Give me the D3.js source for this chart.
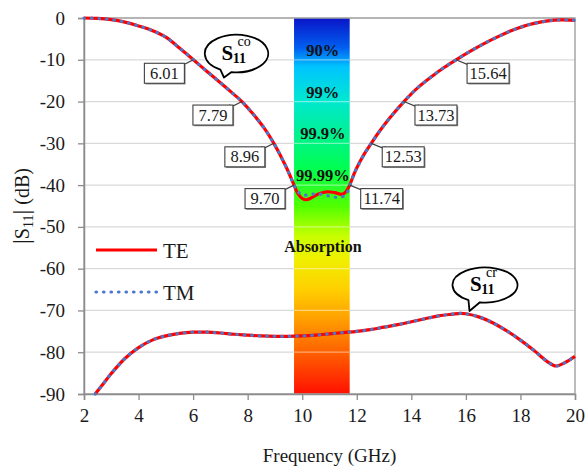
<!DOCTYPE html>
<html><head><meta charset="utf-8">
<script src="https://cdn.jsdelivr.net/npm/d3@7"></script>
<style>
html,body{margin:0;padding:0;background:#fff;}
svg{display:block;}
svg text{font-family:"Liberation Serif","Times New Roman",Tinos,serif;}
</style></head>
<body><svg id="chart" width="587" height="470"></svg>
<script>
// ---------- data ----------
const xTicks = [2,4,6,8,10,12,14,16,18,20];
const yTicks = [0,-10,-20,-30,-40,-50,-60,-70,-80,-90];

const freqCo = [2,2.5,3,3.5,4,4.5,5,5.5,6.01,6.5,7,7.4,7.79,8.2,8.6,8.96,9.2,9.45,9.70,9.85,10.0,10.15,10.35,10.6,10.9,11.2,11.45,11.6,11.74,11.9,12.1,12.3,12.53,12.8,13.2,13.73,14.2,14.75,15.2,15.64,16.2,16.7,17.2,17.68,18.1,18.5,19.0,19.5,20];
const teCo   = [0,-0.1,-0.4,-1.0,-1.9,-3.0,-4.6,-7.2,-10,-12.75,-15.5,-17.75,-20,-23.0,-26.3,-30,-32.9,-36.2,-40,-42.1,-43.2,-43.5,-43.0,-42.1,-41.6,-41.8,-42.2,-41.6,-40,-37.3,-34.6,-32.3,-30,-27.4,-24.0,-20,-16.9,-14.0,-11.85,-10,-7.8,-6.0,-4.4,-3.0,-2.0,-1.3,-0.7,-0.45,-0.55];
const tmCo   = [0,-0.1,-0.4,-1.0,-1.9,-3.0,-4.6,-7.2,-10,-12.75,-15.5,-17.75,-20,-23.0,-26.3,-30,-32.9,-36.2,-40,-41.6,-42.3,-42.4,-42.2,-42.1,-42.5,-42.9,-42.8,-42.3,-40.3,-37.3,-34.6,-32.3,-30,-27.4,-24.0,-20,-16.9,-14.0,-11.85,-10,-7.8,-6.0,-4.4,-3.0,-2.0,-1.3,-0.7,-0.45,-0.55];

const freqCr = [2.41,2.7,3.0,3.5,4.0,4.5,5.0,5.5,6.0,6.5,7.0,7.5,8.0,8.5,9.0,9.5,10.0,10.5,11.0,11.5,12.0,12.5,13.0,13.5,14.0,14.5,15.0,15.5,15.8,16.0,16.5,17.0,17.5,18.0,18.5,19.0,19.3,19.6,20.0];
const teCr   = [-90,-87.6,-85.1,-81.5,-78.9,-77.1,-76.1,-75.5,-75.2,-75.2,-75.4,-75.7,-75.9,-76.1,-76.2,-76.2,-76.1,-75.9,-75.6,-75.3,-75.0,-74.6,-74.0,-73.4,-72.7,-72.0,-71.3,-70.9,-70.7,-70.8,-71.6,-73.0,-74.9,-77.1,-79.6,-82.3,-83.3,-82.6,-81.0];
const tmCr   = teCr.slice();

const markerFreqs  = [6.01,7.79,8.96,9.70,11.74,12.53,13.73,15.64];
const markerLevels = [-10,-20,-30,-40,-40,-30,-20,-10];

const bandStart = 9.70, bandEnd = 11.74;
const absorbLevels = [-10,-20,-30,-40];
const absorbLabels = ["90%","99%","99.9%","99.99%"];

const seriesNames = ["TE","TM"];

// ---------- layout ----------
const svg = d3.select("#chart");
const x = d3.scaleLinear().domain([2,20]).range([84,575]);
const y = d3.scaleLinear().domain([-90,0]).range([394,18]);

// gridlines under
svg.append("g").selectAll("line").data(yTicks).join("line")
  .attr("x1", x(2)).attr("x2", x(20))
  .attr("y1", d=>y(d)).attr("y2", d=>y(d))
  .attr("stroke","#d9d9d9").attr("stroke-width",1.3);

// absorption band gradient
const defs = svg.append("defs");
const grad = defs.append("linearGradient").attr("id","bandGrad")
  .attr("x1",0).attr("y1",0).attr("x2",0).attr("y2",1);
[[0,"#0a14c8"],[0.08,"#0060f0"],[0.13,"#00c4ff"],[0.22,"#00e8d0"],[0.30,"#00f098"],
 [0.40,"#00ff50"],[0.50,"#50ff00"],[0.58,"#c8ff00"],[0.64,"#f0f000"],[0.72,"#ffd000"],
 [0.80,"#ffa000"],[0.89,"#ff6000"],[1,"#ff1000"]].forEach(s=>{
  grad.append("stop").attr("offset",s[0]).attr("stop-color",s[1]);
});
svg.append("rect").attr("x",x(bandStart)).attr("y",y(0))
  .attr("width",x(bandEnd)-x(bandStart)).attr("height",y(-90)-y(0))
  .attr("fill","url(#bandGrad)");
svg.append("g").selectAll("line").data(yTicks.filter(d=>d>-90 && d<0)).join("line")
  .attr("x1", x(bandStart)).attr("x2", x(bandEnd))
  .attr("y1", d=>y(d)).attr("y2", d=>y(d))
  .attr("stroke","rgba(255,255,255,0.45)").attr("stroke-width",1.3);

// frame
svg.append("rect").attr("x",x(2)).attr("y",y(0)).attr("width",x(20)-x(2)).attr("height",y(-90)-y(0))
  .attr("fill","none").attr("stroke","#a6a6a6").attr("stroke-width",1.5);

// axes
const ax = svg.append("g").attr("transform",`translate(0,${y(-90)})`)
  .call(d3.axisBottom(x).tickValues(xTicks).tickSize(6).tickPadding(9).tickFormat(d3.format("d")));
const ay = svg.append("g").attr("transform",`translate(${x(2)},0)`)
  .call(d3.axisLeft(y).tickValues(yTicks).tickSize(6).tickPadding(13).tickFormat(d=>d===0?"0":"-"+Math.abs(d)));
[ax,ay].forEach(g=>{
  g.attr("font-family",null);
  g.select(".domain").attr("stroke","#8c8c8c").attr("stroke-width",1.5);
  g.selectAll(".tick line").attr("stroke","#8c8c8c").attr("stroke-width",1.3);
  g.selectAll(".tick text").attr("font-size",19).attr("fill","#1a1a1a");
});

// axis titles
svg.append("text").attr("x",(x(2)+x(20))/2).attr("y",462).attr("text-anchor","middle")
  .attr("font-size",19).attr("fill","#1a1a1a").text("Frequency (GHz)");
const yt = svg.append("text").attr("transform",`translate(29,${(y(0)+y(-90))/2}) rotate(-90)`)
  .attr("text-anchor","middle").attr("font-size",20).attr("fill","#1a1a1a");
yt.append("tspan").attr("font-size",24).text("|");
yt.append("tspan").text("S");
yt.append("tspan").attr("font-size",14).attr("dy",4).text("11");
yt.append("tspan").attr("font-size",24).attr("dy",-4).text("|");
yt.append("tspan").text(" (dB)");

// curves
const line = d3.line().curve(d3.curveCatmullRom.alpha(0.5)).x(d=>x(d[0])).y(d=>y(d[1]));
const zip = (f,v)=>f.map((d,i)=>[d,v[i]]);
const curves = [
  {name:"TE", data:zip(freqCr,teCr)}, {name:"TM", data:zip(freqCr,tmCr)},
  {name:"TE", data:zip(freqCo,teCo)}, {name:"TM", data:zip(freqCo,tmCo)}
];
const styleOf = n => n==="TE" ? {stroke:"#ff0000", dash:null, cap:"butt"} : {stroke:"#4a78cc", dash:"0.5 7", cap:"round"};
curves.forEach(c=>{
  const s = styleOf(c.name);
  svg.append("path").attr("d",line(c.data)).attr("fill","none")
    .attr("stroke",s.stroke).attr("stroke-width",3.2)
    .attr("stroke-dasharray",s.dash).attr("stroke-linecap",s.cap);
});

// band texts
const bandMid = (x(bandStart)+x(bandEnd))/2 + 1;
svg.append("g").selectAll("text").data(absorbLevels).join("text")
  .attr("x",bandMid).attr("y",d=>y(d)-4).attr("text-anchor","middle")
  .attr("font-size",16.5).attr("font-weight","bold").attr("fill","#111")
  .text((d,i)=>absorbLabels[i]);
svg.append("text").attr("x",bandMid).attr("y",252).attr("text-anchor","middle")
  .attr("font-size",16).attr("font-weight","bold").attr("fill","#111")
  .text("Absorption");

// marker labels
markerFreqs.forEach((f,i)=>{
  const px = x(f), py = y(markerLevels[i]);
  const left = i < 4;
  const txt = f.toFixed(2);
  const w = txt.length>4 ? 42 : 40, h = 20;
  const bx = left ? px - 9 - w : px + 11;
  const by = py + 3.5;
  const cx = left ? bx + w : bx;
  const g = svg.append("g");
  g.append("path").attr("d",`M${px},${py}L${cx},${by+1}L${cx+(left?-4:4)},${by}`)
    .attr("fill","none").attr("stroke","#404040").attr("stroke-width",1.2);
  g.append("rect").attr("x",bx+1.2).attr("y",by+1.2).attr("width",w).attr("height",h).attr("fill","#8a8a8a");
  g.append("rect").attr("x",bx).attr("y",by).attr("width",w).attr("height",h)
    .attr("fill","#fff").attr("stroke","#404040").attr("stroke-width",1.1);
  g.append("text").attr("x",bx+w/2).attr("y",by+15.5).attr("text-anchor","middle")
    .attr("font-size",16.5).attr("fill","#1a1a1a").text(txt);
});

// speech bubbles
function bubble(cx, cy, rx, ry, tx, ty, sup){
  const g = svg.append("g");
  const a1 = Math.PI*0.67, a2 = Math.PI*0.55;
  const p1 = [cx+rx*Math.cos(a1), cy+ry*Math.sin(a1)];
  const p2 = [cx+rx*Math.cos(a2), cy+ry*Math.sin(a2)];
  g.append("path").attr("d",
     `M${p2[0]},${p2[1]} A${rx},${ry} 0 1 0 ${p1[0]},${p1[1]} L${tx},${ty} Z`)
    .attr("fill","#fff").attr("stroke","#000").attr("stroke-width",1.8).attr("stroke-linejoin","round");
  const t = g.append("text").attr("x",cx-15).attr("y",cy+6).attr("fill","#000");
  t.append("tspan").attr("font-size",21).attr("font-weight","bold").text("S");
  t.append("tspan").attr("font-size",14).attr("font-weight","bold").attr("dy",3).attr("dx",-0.5).text("11");
  g.append("text").attr("x",cx+1).attr("y",cy-8).attr("font-size",14).attr("fill","#000").text(sup);
}
bubble(236.5, 53.5, 31.7, 18.8, 224, 77.5, "co");
bubble(485, 285, 32.5, 17.5, 469.5, 311, "cr");

// legend
const legY = [250, 292];
seriesNames.forEach((n,i)=>{
  const s = styleOf(n);
  svg.append("line").attr("x1",96).attr("x2",157).attr("y1",legY[i]).attr("y2",legY[i])
    .attr("stroke",s.stroke).attr("stroke-width",3.2).attr("stroke-dasharray",s.dash).attr("stroke-linecap",s.cap);
  svg.append("text").attr("x",163).attr("y",legY[i]+7.5)
    .attr("font-size",21).attr("fill","#1a1a1a").text(n);
});
</script></body></html>
